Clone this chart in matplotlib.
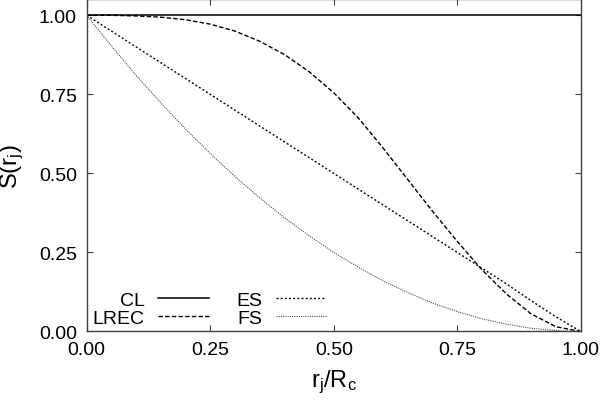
import matplotlib
matplotlib.use('Agg')
import matplotlib.pyplot as plt

plt.rcParams['font.family'] = ['Liberation Sans', 'DejaVu Sans']
plt.rcParams['mathtext.fontset'] = 'custom'
plt.rcParams['mathtext.rm'] = 'Liberation Sans'
plt.rcParams['mathtext.it'] = 'Liberation Sans'

# r_j / R_c sample positions
r = [0.0, 0.05, 0.1, 0.15, 0.2, 0.25, 0.3, 0.35, 0.4, 0.45, 0.5,
     0.55, 0.6, 0.65, 0.7, 0.75, 0.8, 0.85, 0.9, 0.95, 1.0]

# values
s_cl = [1.0] * len(r)
s_lrec = [1.0, 1.0, 0.998, 0.994, 0.986, 0.972, 0.950, 0.918, 0.876, 0.822, 0.755,
          0.675, 0.580, 0.480, 0.380, 0.285, 0.195, 0.118, 0.055, 0.015, 0.0]
s_es = [1.0, 0.95, 0.90, 0.85, 0.80, 0.75, 0.70, 0.65, 0.60, 0.55, 0.50,
        0.45, 0.40, 0.35, 0.30, 0.25, 0.20, 0.15, 0.097, 0.046, 0.0]
s_fs = [1.0, 0.903, 0.81, 0.723, 0.64, 0.563, 0.49, 0.423, 0.36, 0.303, 0.25,
        0.203, 0.16, 0.123, 0.09, 0.063, 0.04, 0.023, 0.01, 0.003, 0.0]

xticks = [0.0, 0.25, 0.5, 0.75, 1.0]
yticks = [0.0, 0.25, 0.5, 0.75, 1.0]

fig = plt.figure(figsize=(6, 4.02), dpi=100)
ax = fig.add_axes([0.1445, 0.1729, 0.8235, 0.8259])

ax.plot(r, s_cl, color='black', lw=1.1, label='CL')
ax.plot(r, s_lrec, color='black', lw=1.0, dashes=(3.2, 1.6), label='LREC')
ax.plot(r, s_es, color='black', lw=1.0, dashes=(1.4, 1.6), label='ES')
ax.plot(r, s_fs, color='0.3', lw=0.8, dashes=(1, 1), label='FS')

ax.set_xlim(0, 1)
ax.set_ylim(0, 1.05)
ax.set_xticks(xticks)
ax.set_yticks(yticks)
ax.set_xticklabels(['%.2f' % t for t in xticks])
ax.set_yticklabels(['%.2f' % t for t in yticks])
ax.tick_params(direction='in', length=4, width=0.8, top=True, right=True,
               labelsize=14, color='0.25', pad=7)
for sp in ax.spines.values():
    sp.set_color('0.25')
    sp.set_linewidth(1.0)

ax.set_xlabel(r'$\mathregular{r_j/R_c}$', fontsize=17, labelpad=7)
ax.set_ylabel(r'$\mathregular{S(r_j)}$', fontsize=17, labelpad=9)

ax.legend(loc='lower left', bbox_to_anchor=(0.012, 0.015), ncol=2, frameon=False,
          markerfirst=False, fontsize=14, handlelength=2.6, handletextpad=0.7,
          columnspacing=1.4, labelspacing=0.0, borderpad=0, borderaxespad=0)

fig.savefig('out.png', dpi=100)
